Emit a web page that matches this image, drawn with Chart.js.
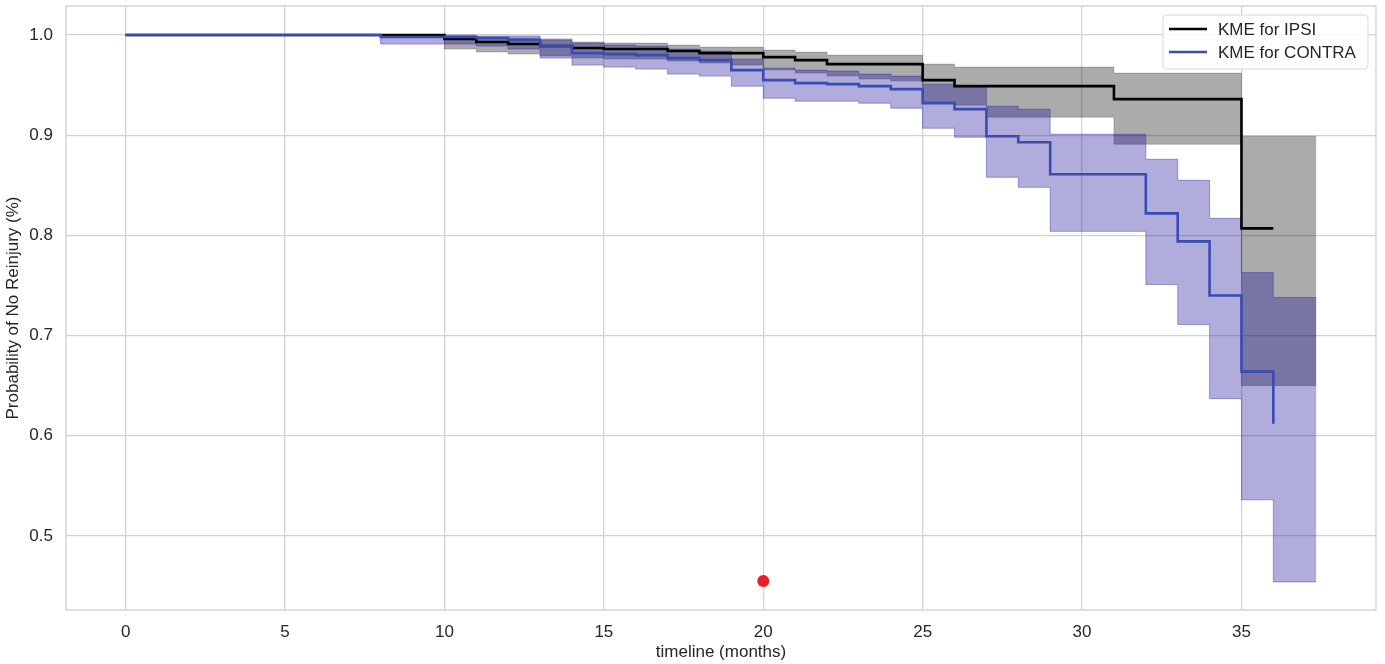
<!DOCTYPE html>
<html><head><meta charset="utf-8">
<script src="https://cdn.jsdelivr.net/npm/chart.js@4.4.0/dist/chart.umd.min.js"></script>
<style>html,body{margin:0;padding:0;background:#fff;}#wrap{width:1385px;height:664px;}</style>
</head><body><div id="wrap"><canvas id="c" width="1385" height="664"></canvas></div>
<script>
// ---- data ----
const xTicks = [0, 5, 10, 15, 20, 25, 30, 35];
const yTicks = [0.5, 0.6, 0.7, 0.8, 0.9, 1.0];

const ipsiTimes = [0, 10, 11, 12, 13, 14, 15, 17, 18, 20, 21, 22, 25, 26, 31, 35, 36];
const ipsiSurv  = [1.0, 0.996, 0.993, 0.991, 0.989, 0.987, 0.986, 0.984, 0.982, 0.978, 0.975, 0.971, 0.955, 0.949, 0.936, 0.807, 0.807];

const ipsiCiTimes = [0, 10, 11, 12, 13, 14, 15, 17, 18, 19, 20, 21, 22, 23, 24, 25, 26, 27, 31, 35, 37.35];
const ipsiUpper   = [1.0, 0.999, 0.998, 0.997, 0.995, 0.993, 0.992, 0.990, 0.988, 0.988, 0.985, 0.983, 0.980, 0.980, 0.980, 0.971, 0.968, 0.968, 0.962, 0.899, 0.899];
const ipsiLower   = [1.0, 0.986, 0.983, 0.981, 0.979, 0.977, 0.976, 0.974, 0.972, 0.970, 0.965, 0.962, 0.959, 0.956, 0.954, 0.933, 0.930, 0.918, 0.891, 0.650, 0.650];

const contraTimes = [0, 8, 11, 12, 13, 14, 15, 16, 17, 18, 19, 20, 21, 22, 23, 24, 25, 26, 27, 28, 29, 32, 33, 34, 35, 36];
const contraSurv  = [1.0, 0.998, 0.997, 0.995, 0.989, 0.982, 0.981, 0.980, 0.977, 0.975, 0.965, 0.955, 0.952, 0.951, 0.949, 0.946, 0.932, 0.926, 0.899, 0.893, 0.861, 0.822, 0.794, 0.740, 0.664, 0.612];

const contraCiTimes = [0, 8, 11, 12, 13, 14, 15, 16, 17, 18, 19, 20, 21, 22, 23, 24, 25, 26, 27, 28, 29, 32, 33, 34, 35, 36, 37.35];
const contraUpper   = [1.0, 1.0, 0.999, 0.999, 0.996, 0.992, 0.990, 0.989, 0.986, 0.984, 0.976, 0.967, 0.965, 0.964, 0.961, 0.959, 0.951, 0.948, 0.929, 0.926, 0.901, 0.876, 0.855, 0.817, 0.763, 0.738, 0.738];
const contraLower   = [1.0, 0.991, 0.989, 0.986, 0.977, 0.970, 0.968, 0.966, 0.961, 0.959, 0.949, 0.937, 0.934, 0.934, 0.932, 0.927, 0.907, 0.898, 0.858, 0.848, 0.804, 0.751, 0.711, 0.637, 0.536, 0.454, 0.454];

const markerPoint = [{x: 20, y: 0.455}];

const legendLabels = ['KME for IPSI', 'KME for CONTRA'];

// ---- styles ----
const FONT = '"Liberation Sans", Arial, sans-serif';
const TEXT = '#262626';
const BLUE = '#3a4bb3';

function pts(t, v) { return t.map((x, i) => ({x: x, y: v[i]})); }

const framePlugin = {
  id: 'frame',
  beforeDatasetsDraw(chart) {
    const a = chart.chartArea, ctx = chart.ctx;
    ctx.save();
    ctx.strokeStyle = '#cfcfcf';
    ctx.lineWidth = 1.3;
    ctx.strokeRect(a.left, a.top, a.right - a.left, a.bottom - a.top);
    ctx.restore();
  }
};

const legendPlugin = {
  id: 'kmLegend',
  afterDraw(chart) {
    const ctx = chart.ctx;
    const a = chart.chartArea;
    const bx = a.right - 213, by = a.top + 9, bw = 205, bh = 54;
    ctx.save();
    ctx.beginPath();
    ctx.roundRect(bx, by, bw, bh, 4);
    ctx.fillStyle = 'rgba(255,255,255,0.85)';
    ctx.fill();
    ctx.strokeStyle = '#d8d8d8';
    ctx.lineWidth = 1;
    ctx.stroke();
    const cols = ['#000000', BLUE];
    ctx.font = '17px ' + FONT;
    ctx.textBaseline = 'middle';
    legendLabels.forEach((lab, i) => {
      const y = by + 14 + i * 23;
      ctx.beginPath();
      ctx.strokeStyle = cols[i];
      ctx.lineWidth = 2.5;
      ctx.moveTo(bx + 6, y);
      ctx.lineTo(bx + 44, y);
      ctx.stroke();
      ctx.fillStyle = TEXT;
      ctx.fillText(lab, bx + 55, y + 1);
    });
    ctx.restore();
  }
};

new Chart(document.getElementById('c'), {
  type: 'line',
  data: {
    datasets: [
      { label: 'ipsiUpper', data: pts(ipsiCiTimes, ipsiUpper), stepped: true, fill: '+1',
        backgroundColor: 'rgba(0,0,0,0.33)', borderColor: 'rgba(0,0,0,0.2)', borderWidth: 1, pointRadius: 0, order: 4 },
      { label: 'ipsiLower', data: pts(ipsiCiTimes, ipsiLower), stepped: true, fill: false,
        borderColor: 'rgba(0,0,0,0.2)', borderWidth: 1, pointRadius: 0, order: 4 },
      { label: 'contraUpper', data: pts(contraCiTimes, contraUpper), stepped: true, fill: '+1',
        backgroundColor: 'rgba(15,5,150,0.33)', borderColor: 'rgba(40,40,170,0.4)', borderWidth: 1, pointRadius: 0, order: 3 },
      { label: 'contraLower', data: pts(contraCiTimes, contraLower), stepped: true, fill: false,
        borderColor: 'rgba(40,40,170,0.4)', borderWidth: 1, pointRadius: 0, order: 3 },
      { label: legendLabels[0], data: pts(ipsiTimes, ipsiSurv), stepped: true, fill: false,
        borderColor: '#000000', borderWidth: 2.6, pointRadius: 0, order: 2 },
      { label: legendLabels[1], data: pts(contraTimes, contraSurv), stepped: true, fill: false,
        borderColor: BLUE, borderWidth: 2.6, pointRadius: 0, order: 1 },
      { type: 'scatter', label: 'marker', data: markerPoint, pointRadius: 6, pointBackgroundColor: '#ee1c25',
        pointBorderWidth: 0, backgroundColor: '#ee1c25', order: 0 }
    ]
  },
  options: {
    responsive: false,
    animation: false,
    devicePixelRatio: 1,
    layout: { padding: { left: 0, right: 9, top: 6, bottom: 0 } },
    plugins: { legend: { display: false }, tooltip: { enabled: false } },
    scales: {
      x: {
        type: 'linear', min: -1.87, max: 39.22,
        afterBuildTicks: s => { s.ticks = xTicks.map(v => ({value: v})); },
        afterFit: s => { s.height = 54; s.paddingLeft = 0; s.paddingRight = 0; },
        grid: { color: '#d2d2d2', lineWidth: 1.3, drawTicks: false },
        border: { display: false },
        ticks: { color: TEXT, font: { family: FONT, size: 17 }, padding: 12, maxRotation: 0,
                 callback: v => String(v) },
        title: { display: true, text: 'timeline (months)', color: TEXT, font: { family: FONT, size: 17 },
                 padding: { top: 0, bottom: 1 } }
      },
      y: {
        type: 'linear', min: 0.426, max: 1.029,
        afterBuildTicks: s => { s.ticks = yTicks.map(v => ({value: v})); },
        afterFit: s => { s.width = 66; s.paddingTop = 0; s.paddingBottom = 0; },
        grid: { color: '#d2d2d2', lineWidth: 1.3, drawTicks: false },
        border: { display: false },
        ticks: { color: TEXT, font: { family: FONT, size: 17 }, padding: 13,
                 callback: v => Number(v).toFixed(1) },
        title: { display: true, text: 'Probability of No Reinjury (%)', color: TEXT,
                 font: { family: FONT, size: 17 }, padding: { top: 3, bottom: 0 } }
      }
    }
  },
  plugins: [framePlugin, legendPlugin]
});
</script>
</body></html>
